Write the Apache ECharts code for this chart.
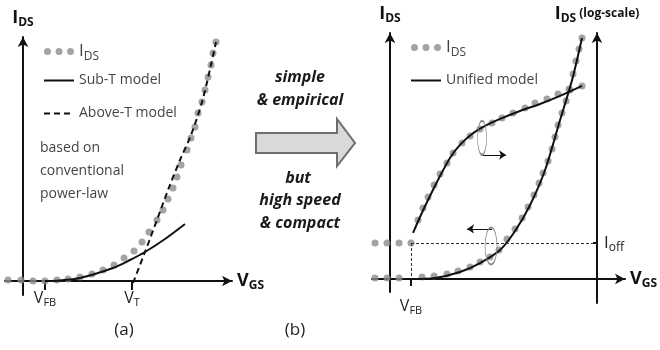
<!DOCTYPE html>
<html><head><meta charset="utf-8">
<script src="https://cdn.jsdelivr.net/npm/echarts@6/dist/echarts.min.js"></script>
<style>html,body{margin:0;padding:0;background:#fff}#c{width:660px;height:350px}</style>
</head><body><div id="c"></div>
<script>
// ---------- Panel (a) data ----------
const aIdsX = [-1.5,-0.2,1.0,2.2,3.4,4.5,5.7,6.9,8.0,9.1,10.1,11.1,11.9,12.6,13.4,14.0,14.5,15.0,15.4,15.8,16.4,16.8,17.2,17.5,17.9,18.2,18.5,18.8,19.0,19.3];
const aIdsY = [0.1,0.1,0,0,0.1,0.2,0.4,0.7,1.1,1.6,2.3,3.0,3.9,4.9,6.1,7.1,8.2,9.3,10.4,11.6,13.1,14.3,15.4,16.8,17.9,19.1,20.4,21.6,22.8,23.9];
const aSubX = [2.2,3.7,5.7,9.0,10.7,12.2,14.2,16.2];
const aSubY = [0,0.05,0.3,1.3,2.1,2.9,4.2,5.7];
const aAboveX = [11.0,12.2,13.4,14.5,15.7,16.8,17.9,18.8,19.3];
const aAboveY = [-0.2,2.9,6.1,9.1,12.1,14.6,17.9,21.6,23.9];
const aTickVals = [2.2, 10.9];
const aTickLabels = ['FB', 'T'];

// ---------- Panel (b) data ----------
const bLowDotsX = [-1.25,-0.25,0.75,2.67,3.67,4.75,5.67,6.67,7.5,8.33,9.08,9.75,10.42,11.0,11.5,12.0,12.42,12.75,13.17,13.5,13.75,14.0,14.33,14.67,14.92,15.25,15.5,15.75,16.0];
const bLowDotsY = [0.08,0.08,0.08,0.15,0.23,0.38,0.62,0.92,1.31,1.69,2.23,3.08,3.85,4.69,5.54,6.46,7.38,8.15,9.08,10.0,10.92,11.85,12.77,13.69,14.62,15.77,16.77,17.69,18.54];
const bLowLineX = [1.75,3.75,5.83,7.5,9.17,10.42,11.67,12.92,14.17,15.17,16.0];
const bLowLineY = [0,0.08,0.54,1.23,2.23,3.69,5.69,8.38,12.23,15.31,18.54];
const bUpDotsX = [2.33,2.75,3.17,3.67,4.17,4.75,5.25,6.0,6.67,7.5,8.5,9.33,10.25,11.25,12.08,13.08,14.0,15.0,16.0];
const bUpDotsY = [4.54,5.46,6.31,7.23,8.08,8.92,9.69,10.46,11.0,11.54,12.0,12.38,12.77,13.15,13.54,13.85,14.23,14.54,14.85];
const bUpLineX = [1.92,2.5,3.33,4.17,5.0,5.83,6.83,7.92,9.17,10.83,12.5,14.17,16.0];
const bUpLineY = [3.54,4.77,6.38,7.92,9.31,10.31,11.15,11.77,12.31,12.92,13.46,14.08,14.85];
const bOffDotsX = [-1.25,-0.25,0.75,1.75];
const bIoff = 2.77;
const bVfb = 1.75;
const bRightAxisX = 17.25;

const zip = (xs, ys) => xs.map((x, i) => [x, ys[i]]);
const FF = '"Open Sans", "DejaVu Sans", sans-serif';
const DOT = '#8c8c8c';
const INK = '#111';

const titleRich = {
  i: {fontSize: 18, fontWeight: 'bold', color: INK, fontFamily: FF, lineHeight: 22},
  s: {fontSize: 12, fontWeight: 'bold', color: INK, fontFamily: FF, verticalAlign: 'bottom', lineHeight: 13},
  l: {fontSize: 12, fontWeight: 'bold', color: INK, fontFamily: FF, lineHeight: 22}
};
const labRich = {
  v: {fontSize: 16, color: '#222', fontFamily: FF, lineHeight: 20},
  s: {fontSize: 11, color: '#222', fontFamily: FF, verticalAlign: 'bottom', lineHeight: 11}
};
const legRich = {
  i: {fontSize: 17, color: '#444', fontFamily: FF, lineHeight: 22},
  s: {fontSize: 12, color: '#444', fontFamily: FF, verticalAlign: 'bottom', lineHeight: 12}
};
const dotsIcon = 'path://M0,3.5A3.5,3.5,0,1,0,7,3.5A3.5,3.5,0,1,0,0,3.5Z M11.5,3.5A3.5,3.5,0,1,0,18.5,3.5A3.5,3.5,0,1,0,11.5,3.5Z M23,3.5A3.5,3.5,0,1,0,30,3.5A3.5,3.5,0,1,0,23,3.5Z';
const ellipse = 'path://M0,15A5,15,0,1,1,10,15A5,15,0,1,1,0,15Z';

const axisLine = (arrow) => ({
  show: true, onZero: true,
  symbol: arrow ? ['none', 'arrow'] : 'none', symbolSize: [8, 10],
  lineStyle: {color: INK, width: 2}
});

const legFmt = n => n === 'IDS' ? '{i|I}{s|DS}' : n;
const noSym = {opacity: 0};

const option = {
  animation: false,
  backgroundColor: '#fff',
  grid: [
    {left: 5, right: 428, top: 37, bottom: 55, outerBoundsMode: 'none'},
    {left: 372, right: 35, top: 33, bottom: 58, outerBoundsMode: 'none'},
    {left: 597, right: 53, top: 33, bottom: 47, outerBoundsMode: 'none'}
  ],
  xAxis: [
    {gridIndex: 0, type: 'value', min: -1.8, max: 20.9,
     axisLine: axisLine(true), splitLine: {show: false},
     axisTick: {show: true, customValues: aTickVals, length: 9, lineStyle: {color: INK, width: 2}},
     axisLabel: {show: true, customValues: aTickVals, margin: -7,
       formatter: v => '{v|V}{s|' + aTickLabels[aTickVals.indexOf(v)] + '}', rich: labRich},
     name: '{i|V}{s|GS}', nameLocation: 'end', nameGap: 5, nameTextStyle: {rich: titleRich}},
    {gridIndex: 1, type: 'value', min: -1.5, max: 19.58,
     axisLine: axisLine(true), splitLine: {show: false},
     axisTick: {show: true, customValues: [bVfb], length: 7, lineStyle: {color: INK, width: 2}},
     axisLabel: {show: true, customValues: [bVfb], margin: 4,
       formatter: () => '{v|V}{s|FB}', rich: labRich},
     name: '{i|V}{s|GS}', nameLocation: 'end', nameGap: 5, nameTextStyle: {rich: titleRich}},
    {gridIndex: 2, type: 'value', min: 0, max: 1, show: false}
  ],
  yAxis: [
    {gridIndex: 0, type: 'value', min: -1.4, max: 24.4,
     axisLine: axisLine(true), splitLine: {show: false}, axisTick: {show: false}, axisLabel: {show: false},
     name: '{i|I}{s|DS}', nameLocation: 'end', nameGap: 8, nameTextStyle: {rich: titleRich}},
    {gridIndex: 1, type: 'value', min: -1, max: 18.92,
     axisLine: axisLine(true), splitLine: {show: false}, axisTick: {show: false}, axisLabel: {show: false},
     name: '{i|I}{s|DS}', nameLocation: 'end', nameGap: 8, nameTextStyle: {rich: titleRich}},
    {gridIndex: 2, type: 'value', min: -1.85, max: 18.92, position: 'left',
     axisLine: Object.assign(axisLine(true), {onZero: false}), splitLine: {show: false},
     axisTick: {show: true, customValues: [bIoff], length: 4, inside: false, lineStyle: {color: INK, width: 2}},
     axisLabel: {show: true, customValues: [bIoff], inside: true, margin: 7,
       formatter: () => '{i|I}{s|off}', rich: {
         i: {fontSize: 17, color: '#222', fontFamily: FF, lineHeight: 22},
         s: {fontSize: 12, color: '#222', fontFamily: FF, verticalAlign: 'bottom', lineHeight: 12}}},
     name: '{i|I}{s|DS}{l| (log-scale)}', nameLocation: 'end', nameGap: 8, nameTextStyle: {rich: titleRich}},
    {gridIndex: 1, type: 'value', min: -1, max: 18.92, show: false, name: 'log-scale'}
  ],
  legend: [
    {left: 38, top: 38, orient: 'vertical', itemWidth: 30, itemHeight: 8, itemGap: 11, selectedMode: false,
     formatter: legFmt, textStyle: {fontSize: 14, color: '#444', fontFamily: FF, rich: legRich},
     data: [{name: 'IDS', icon: dotsIcon},
            {name: 'Sub-T model', itemStyle: noSym},
            {name: 'Above-T model', itemStyle: noSym, textStyle: {lineHeight: 30}}]},
    {left: 405, top: 34, orient: 'vertical', itemWidth: 30, itemHeight: 8, itemGap: 15, selectedMode: false,
     formatter: legFmt, textStyle: {fontSize: 14, color: '#444', fontFamily: FF, rich: legRich},
     data: [{name: 'IDS', icon: dotsIcon}, {name: 'Unified model', itemStyle: noSym}]}
  ],
  series: [
    {name: 'IDS', type: 'scatter', xAxisIndex: 0, yAxisIndex: 0, data: zip(aIdsX, aIdsY),
     symbolSize: 7, itemStyle: {color: DOT}, z: 2, silent: true},
    {name: 'Sub-T model', type: 'line', xAxisIndex: 0, yAxisIndex: 0, data: zip(aSubX, aSubY),
     smooth: 0.3, symbol: 'none', lineStyle: {color: INK, width: 2}, itemStyle: {color: INK}, z: 3},
    {name: 'Above-T model', type: 'line', xAxisIndex: 0, yAxisIndex: 0, data: zip(aAboveX, aAboveY),
     smooth: 0.3, symbol: 'none', lineStyle: {color: INK, width: 2, type: [6, 4]}, itemStyle: {color: INK}, z: 3},

    {name: 'IDS', type: 'scatter', xAxisIndex: 1, yAxisIndex: 1, data: zip(bLowDotsX, bLowDotsY),
     symbolSize: 7, itemStyle: {color: DOT}, z: 2, silent: true},
    {name: 'IDS', type: 'scatter', xAxisIndex: 1, yAxisIndex: 3, data: zip(bUpDotsX, bUpDotsY),
     symbolSize: 7, itemStyle: {color: DOT}, z: 2, silent: true},
    {name: 'IDS', type: 'scatter', xAxisIndex: 1, yAxisIndex: 1, data: bOffDotsX.map(x => [x, bIoff]),
     symbolSize: 7, itemStyle: {color: DOT}, z: 2, silent: true,
     markLine: {silent: true, symbol: 'none', label: {show: false},
       lineStyle: {color: '#333', width: 1, type: [3, 2]},
       data: [[{coord: [bVfb, bIoff]}, {coord: [bRightAxisX, bIoff]}],
              [{coord: [bVfb, bIoff]}, {coord: [bVfb, 0]}]]}},
    {name: 'Unified model', type: 'line', xAxisIndex: 1, yAxisIndex: 1, data: zip(bLowLineX, bLowLineY),
     smooth: 0.3, symbol: 'none', lineStyle: {color: INK, width: 2}, itemStyle: {color: INK}, z: 3,
     markPoint: {silent: true, symbol: ellipse, symbolSize: [12, 37], label: {show: false},
       itemStyle: {color: 'rgba(0,0,0,0)', borderColor: '#888', borderWidth: 1.2},
       data: [{coord: [8.42, 2.54]}]},
     markLine: {silent: true, symbol: ['none', 'arrow'], symbolSize: 7, label: {show: false},
       lineStyle: {color: INK, width: 1, type: 'solid'},
       data: [[{coord: [8.5, 3.85]}, {coord: [6.42, 3.85]}]]}},
    {name: 'Unified model', type: 'line', xAxisIndex: 1, yAxisIndex: 3, data: zip(bUpLineX, bUpLineY),
     smooth: 0.3, symbol: 'none', lineStyle: {color: INK, width: 2}, itemStyle: {color: INK}, z: 3,
     markPoint: {silent: true, symbol: ellipse, symbolSize: [9, 34], label: {show: false},
       itemStyle: {color: 'rgba(0,0,0,0)', borderColor: '#888', borderWidth: 1.2},
       data: [{coord: [7.67, 10.85]}]},
     markLine: {silent: true, symbol: ['none', 'arrow'], symbolSize: 7, label: {show: false},
       lineStyle: {color: INK, width: 1, type: 'solid'},
       data: [[{coord: [7.75, 9.54]}, {coord: [9.67, 9.54]}]]}}
  ],
  graphic: [
    {type: 'text', left: 40, top: 137, style: {text: 'based on\nconventional\npower-law', fontSize: 14, lineHeight: 23, fill: '#444', fontFamily: FF}},
    {type: 'text', x: 300, y: 77, style: {text: 'simple', fontSize: 16, fontWeight: 'bold', fontStyle: 'italic', fill: '#1a1a1a', fontFamily: FF, align: 'center', verticalAlign: 'middle'}},
    {type: 'text', x: 300, y: 100, style: {text: '& empirical', fontSize: 16, fontWeight: 'bold', fontStyle: 'italic', fill: '#1a1a1a', fontFamily: FF, align: 'center', verticalAlign: 'middle'}},
    {type: 'polygon', shape: {points: [[256,133],[337,133],[337,119],[355,143],[337,166],[337,153],[256,153]]},
     style: {fill: '#d9d9d9', stroke: '#6e6e6e', lineWidth: 2}},
    {type: 'text', x: 298, y: 178, style: {text: 'but', fontSize: 16, fontWeight: 'bold', fontStyle: 'italic', fill: '#1a1a1a', fontFamily: FF, align: 'center', verticalAlign: 'middle'}},
    {type: 'text', x: 300, y: 200, style: {text: 'high speed', fontSize: 16, fontWeight: 'bold', fontStyle: 'italic', fill: '#1a1a1a', fontFamily: FF, align: 'center', verticalAlign: 'middle'}},
    {type: 'text', x: 300, y: 223, style: {text: '& compact', fontSize: 16, fontWeight: 'bold', fontStyle: 'italic', fill: '#1a1a1a', fontFamily: FF, align: 'center', verticalAlign: 'middle'}},
    {type: 'text', x: 124, y: 330, style: {text: '(a)', fontSize: 17, fill: '#222', fontFamily: FF, align: 'center', verticalAlign: 'middle'}},
    {type: 'text', x: 295, y: 330, style: {text: '(b)', fontSize: 17, fill: '#222', fontFamily: FF, align: 'center', verticalAlign: 'middle'}}
  ]
};
const chart = echarts.init(document.getElementById('c'), null, {renderer: 'canvas'});
chart.setOption(option);
</script></body></html>
